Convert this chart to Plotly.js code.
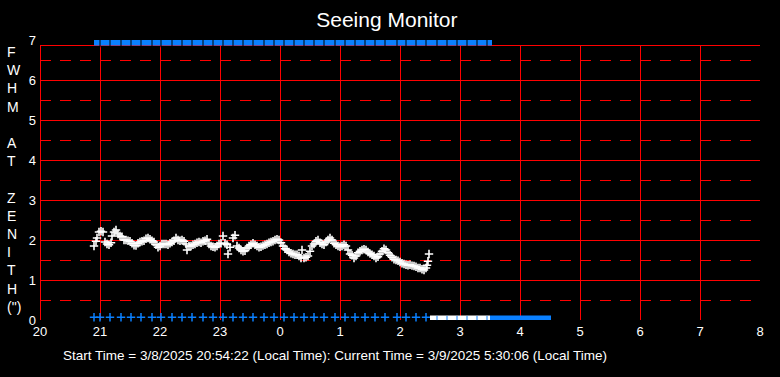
<!DOCTYPE html>
<html>
<head>
<meta charset="utf-8">
<script src="https://cdn.plot.ly/plotly-3.0.1.min.js"></script>
<style>html,body{margin:0;padding:0;background:#000;}#chart{width:780px;height:377px;}
.shapelayer path{shape-rendering:crispEdges;}</style>
</head>
<body>
<div id="chart"></div>
<script>
// ---- data (local clock times) ----
const seeingTimes = ["20:54","20:56","20:57","20:59","21:01","21:03","21:05","21:07","21:09","21:11","21:12","21:14","21:16","21:18","21:20","21:22","21:24","21:26","21:28","21:30","21:32","21:34","21:36","21:38","21:40","21:42","21:44","21:46","21:48","21:50","21:52","21:54","21:56","21:58","22:00","22:02","22:04","22:06","22:08","22:10","22:12","22:14","22:16","22:18","22:20","22:22","22:24","22:26","22:27","22:29","22:31","22:33","22:35","22:37","22:39","22:41","22:43","22:45","22:47","22:49","22:51","22:53","22:55","22:57","22:59","23:01","23:03","23:05","23:07","23:08","23:10","23:13","23:15","23:17","23:19","23:21","23:23","23:25","23:27","23:29","23:31","23:33","23:35","23:37","23:39","23:41","23:43","23:45","23:47","23:49","23:51","23:53","23:55","23:57","23:59","0:01","0:03","0:05","0:07","0:09","0:11","0:13","0:15","0:17","0:19","0:21","0:22","0:24","0:26","0:28","0:30","0:32","0:34","0:36","0:38","0:40","0:42","0:44","0:46","0:48","0:50","0:52","0:54","0:56","0:58","1:00","1:02","1:04","1:06","1:08","1:10","1:12","1:14","1:16","1:18","1:20","1:22","1:24","1:26","1:28","1:30","1:32","1:34","1:36","1:38","1:40","1:42","1:44","1:46","1:48","1:50","1:52","1:54","1:56","1:58","2:00","2:02","2:04","2:06","2:08","2:10","2:12","2:14","2:16","2:18","2:20","2:22","2:24","2:26","2:27","2:28","2:29"];
const seeingFwhm = [1.85,1.97,2.05,2.2,2.22,2.2,1.95,1.9,1.88,1.93,2.1,2.2,2.25,2.15,2.1,2.08,2.0,2.0,1.98,1.97,1.92,1.87,1.86,1.92,1.95,1.97,1.98,2.03,2.05,2.02,1.98,1.95,1.88,1.82,1.85,1.9,1.9,1.9,1.88,1.92,1.95,1.98,2.05,2.0,1.98,2.0,1.97,1.9,1.75,1.85,1.85,1.88,1.9,1.93,1.95,1.93,1.97,1.98,2.02,1.9,1.85,1.83,1.82,1.85,1.9,1.92,2.1,1.92,1.88,1.65,1.82,2.05,2.12,1.85,1.8,1.75,1.72,1.73,1.8,1.85,1.88,1.92,1.88,1.85,1.82,1.83,1.86,1.88,1.9,1.93,1.95,1.97,2.0,2.02,2.0,1.93,1.85,1.78,1.75,1.7,1.67,1.65,1.63,1.63,1.6,1.55,1.75,1.55,1.57,1.6,1.72,1.85,1.9,1.97,2.0,1.93,1.9,1.88,1.95,2.0,2.05,2.0,1.92,1.88,1.85,1.83,1.85,1.88,1.85,1.75,1.65,1.62,1.55,1.6,1.68,1.72,1.75,1.77,1.75,1.7,1.66,1.63,1.6,1.55,1.58,1.65,1.72,1.78,1.75,1.68,1.62,1.57,1.52,1.5,1.48,1.45,1.42,1.4,1.38,1.37,1.38,1.36,1.35,1.33,1.3,1.3,1.27,1.25,1.3,1.37,1.47,1.65];

// status sample times (bottom "+" row and gaps of the top bar)
const sampleTimes = ["20:54","21:00","21:10","21:21","21:31","21:41","21:52","22:01","22:12","22:22","22:32","22:43","22:53","23:03","23:13","23:23","23:33","23:44","23:54","0:04","0:14","0:24","0:34","0:44","0:55","1:05","1:15","1:25","1:35","1:45","1:57","2:06","2:16","2:26","2:37","2:47","2:57","3:07","3:17","3:27"];
const openBar = {start:"20:54", end:"3:32", level:6.94};
const twilightBand = {start:"2:30", end:"3:30", level:0.05};
const dayBand = {start:"3:30", end:"4:31", level:0.05};
const sampleLevel = 0.07;

const hourTicks = [20,21,22,23,24,25,26,27,28,29,30,31,32];
const hourLabels = ["20","21","22","23","0","1","2","3","4","5","6","7","8"];
const fwhmTicks = [0,1,2,3,4,5,6,7];
const halfLevels = [0.5,1.5,2.5,3.5,4.5,5.5,6.5];
const frameTop = 6.875;

const titleText = "Seeing Monitor";
const yTitleLetters = ["F","W","H","M"," ","A","T"," ","Z","E","N","I","T","H","(\")"];
const footerText = "Start Time = 3/8/2025 20:54:22 (Local Time): Current Time = 3/9/2025 5:30:06 (Local Time)";

// ---- helpers ----
function toHour(s){ const p=s.split(":"); let h=+p[0]+(+p[1])/60; if(h<12) h+=24; return h; }

const RED = "#ff0000", BLUE = "#0a80ff";
const FONT = "Liberation Sans, Arial, sans-serif";

const sx = sampleTimes.map(toHour);
const tw0 = toHour(twilightBand.start), tw1 = toHour(twilightBand.end);
const bottomPlus = sx.filter(h => h < tw0);
const inBand = sx.filter(h => h >= tw0 && h <= tw1);
const barGaps = sx.filter(h => h > toHour(openBar.start) && h < toHour(openBar.end));

const traces = [
  {x:[toHour(openBar.start), toHour(openBar.end)], y:[openBar.level, openBar.level], mode:"lines",
   line:{color:BLUE, width:6}, hoverinfo:"skip", cliponaxis:false},
  {x:barGaps, y:barGaps.map(()=>openBar.level), mode:"markers",
   marker:{symbol:"line-ns", size:7, color:"#000", line:{color:"#000", width:1}}, hoverinfo:"skip", cliponaxis:false},
  {x:bottomPlus, y:bottomPlus.map(()=>sampleLevel), mode:"markers",
   marker:{symbol:"cross-thin", size:6, line:{color:BLUE, width:1.5}}, hoverinfo:"skip", cliponaxis:false},
  {x:[tw0, tw1], y:[twilightBand.level, twilightBand.level], mode:"lines",
   line:{color:"#ffffff", width:5}, hoverinfo:"skip", cliponaxis:false},
  {x:inBand, y:inBand.map(()=>twilightBand.level), mode:"markers",
   marker:{symbol:"line-ns", size:3, line:{color:BLUE, width:1}}, hoverinfo:"skip", cliponaxis:false},
  {x:[toHour(dayBand.start), toHour(dayBand.end)], y:[dayBand.level, dayBand.level], mode:"lines",
   line:{color:BLUE, width:5}, hoverinfo:"skip", cliponaxis:false},
  {x:seeingTimes.map(toHour), y:seeingFwhm, mode:"markers",
   marker:{symbol:"cross-thin", size:6, line:{color:"#ffffff", width:1.6}}, hoverinfo:"x+y"}
];

const shapes = [];
const x0 = hourTicks[0], x1 = hourTicks[hourTicks.length-1];
halfLevels.forEach(v => shapes.push({type:"line", xref:"x", yref:"y", x0:x0, x1:x1, y0:v, y1:v,
  line:{color:RED, width:1, dash:"11px,9px"}, layer:"below"}));
fwhmTicks.filter(v => v>0 && v<frameTop).forEach(v => shapes.push({type:"line", xref:"x", yref:"y", x0:x0, x1:x1, y0:v, y1:v,
  line:{color:RED, width:1}, layer:"below"}));
hourTicks.slice(1,-1).forEach(h => shapes.push({type:"line", xref:"x", yref:"y", x0:h, x1:h, y0:0, y1:frameTop,
  line:{color:RED, width:1}, layer:"below"}));
shapes.push({type:"rect", xref:"x", yref:"y", x0:x0, x1:x1, y0:0, y1:frameTop,
  line:{color:RED, width:1}, fillcolor:"rgba(0,0,0,0)", layer:"below"});

const layout = {
  width:780, height:377,
  paper_bgcolor:"#000", plot_bgcolor:"#000",
  margin:{l:40, r:20, t:40, b:57, pad:0},
  showlegend:false,
  font:{family:FONT, color:"#ffffff", size:13},
  title:{text:titleText, font:{family:FONT, size:21, color:"#ffffff"}, x:0.496, xanchor:"center", xref:"container", y:1-20/377, yanchor:"middle", yref:"container"},
  xaxis:{range:[x0, x1], tickvals:hourTicks, ticktext:hourLabels, showgrid:false, zeroline:false, showline:false,
         ticks:"", ticklabelstandoff:2, tickfont:{family:FONT, size:13, color:"#ffffff"}, fixedrange:true},
  yaxis:{range:[0,7], tickvals:fwhmTicks, ticktext:fwhmTicks.map(String), showgrid:false, zeroline:false, showline:false,
         ticks:"", ticklabelstandoff:3, tickfont:{family:FONT, size:13, color:"#ffffff"}, fixedrange:true},
  shapes:shapes,
  annotations:[
    {text:yTitleLetters.join("<br>"), xref:"paper", yref:"y", x:-35/720, y:3.525, xanchor:"left", yanchor:"middle",
     align:"left", showarrow:false, font:{family:FONT, size:14, color:"#ffffff"}},
    {text:footerText, xref:"paper", yref:"paper", x:21/720, y:-35/280, xanchor:"left", yanchor:"middle",
     showarrow:false, font:{family:FONT, size:13.5, color:"#ffffff"}}
  ]
};

Plotly.newPlot("chart", traces, layout, {displayModeBar:false, staticPlot:true});
</script>
</body>
</html>
